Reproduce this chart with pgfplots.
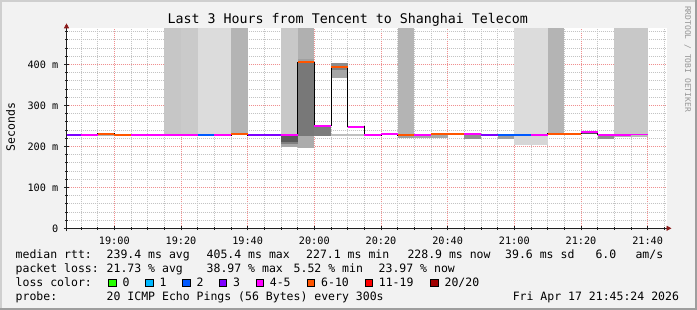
\documentclass[border=0pt]{standalone}
\usepackage{pgfplots}
\pgfplotsset{compat=1.18}
\usepackage{fontspec}
\setmainfont{DejaVu Sans Mono}
\setmonofont{DejaVu Sans Mono}
\usetikzlibrary{arrows.meta}
\definecolor{bgc}{HTML}{F2F2F2}
\definecolor{shadea}{HTML}{CFCFCF}
\definecolor{shadeb}{HTML}{9E9E9E}
\definecolor{gridc}{HTML}{C4C4C4}
\definecolor{mgridc}{HTML}{F09090}
\definecolor{axisc}{HTML}{202020}
\definecolor{arrowc}{HTML}{8B1A1A}
\definecolor{lc0}{HTML}{26FF00}
\definecolor{lc1}{HTML}{00B8FF}
\definecolor{lc2}{HTML}{0059FF}
\definecolor{lc3}{HTML}{7E00FF}
\definecolor{lc4}{HTML}{FF00FF}
\definecolor{lc6}{HTML}{FF5500}
\definecolor{lc11}{HTML}{FF0000}
\definecolor{lc20}{HTML}{A00000}
\newcommand\lfont{\fontsize{11.5}{13}\selectfont}
\newcommand\smoke[5]{\addplot[draw=none, fill={rgb,255:red,#5;green,#5;blue,#5}, forget plot] coordinates {(#1,#3) (#2,#3) (#2,#4) (#1,#4)};}
\begin{document}
\begin{tikzpicture}[x=1pt,y=1pt]
\fill[bgc] (0,0) rectangle (697,310);
\fill[shadea] (0,0) rectangle (2,310);
\fill[shadea] (0,308) rectangle (697,310);
\fill[shadeb] (0,0) rectangle (697,2);
\fill[shadeb] (695,0) rectangle (697,310);
\begin{axis}[
  at={(66.5pt,81.7pt)}, anchor=south west,
  scale only axis, width=600pt, height=200pt,
  xmin=45.66, xmax=225.66, ymin=0, ymax=487.8,
  axis background/.style={fill=white},
  axis lines*=left,
  axis line style={draw=axisc, line width=0.8pt},
  x axis line style={shorten >=-5pt, shorten <=-3pt, -{Triangle[length=5pt,width=5pt,color=arrowc]}},
  y axis line style={shorten >=-5pt, shorten <=-3pt, -{Triangle[length=5pt,width=5pt,color=arrowc]}},
  xtick={60,80,100,120,140,160,180,200,220},
  xticklabels={19:00,19:20,19:40,20:00,20:20,20:40,21:00,21:20,21:40},
  minor xtick={50,55,65,70,75,85,90,95,105,110,115,125,130,135,145,150,155,165,170,175,185,190,195,205,210,215,225},
  ytick={0,100,200,300,400},
  yticklabels={0,100 m,200 m,300 m,400 m},
  minor ytick={20,40,60,80,120,140,160,180,220,240,260,280,320,340,360,380,420,440,460,480},
  grid=both,
  major grid style={mgridc, line width=0.6pt, dash pattern=on 1pt off 1pt},
  minor grid style={gridc, line width=0.6pt, dash pattern=on 1pt off 1pt},
  tick align=center,
  major tick length=4pt, minor tick length=2.5pt,
  tick style={axisc, line width=0.6pt},
  tick label style={font=\fontsize{10.2}{12}\selectfont, inner sep=0pt},
  xticklabel style={anchor=north, yshift=-6pt},
  yticklabel style={anchor=east, xshift=-6pt},
  unbounded coords=jump,
]
% smoke reaching above the graph
\smoke{75}{80}{228}{500}{198}
\smoke{80}{85}{228}{500}{202}
\smoke{85}{95}{228}{500}{220}
\smoke{95}{100}{228}{500}{180}
\smoke{110}{115}{228}{500}{200}
\smoke{115}{120}{405}{500}{176}
\smoke{115}{120}{405}{413}{160}
\smoke{145}{150}{228}{500}{180}
\smoke{180}{190}{228}{500}{220}
\smoke{190}{195}{228}{500}{180}
\smoke{210}{220}{228}{500}{200}
% smoke near the median
\smoke{55}{60}{226}{230}{180}
\smoke{110}{115}{198}{205}{168}
\smoke{110}{115}{205}{211}{128}
\smoke{110}{115}{211}{227}{90}
\smoke{115}{120}{196}{224}{172}
\smoke{115}{120}{224}{405}{120}
\smoke{120}{125}{226}{250}{124}
\smoke{125}{130}{225}{229}{190}
\smoke{125}{130}{367}{387}{166}
\smoke{125}{130}{387}{394}{128}
\smoke{125}{130}{394}{404}{140}
\smoke{130}{135}{225}{229}{192}
\smoke{145}{150}{221}{227}{160}
\smoke{150}{155}{221}{227}{168}
\smoke{155}{160}{221}{228}{168}
\smoke{165}{170}{218}{228}{144}
\smoke{175}{180}{218}{227}{160}
\smoke{180}{190}{203}{227}{214}
\smoke{200}{205}{229}{233}{80}
\smoke{205}{210}{218}{227}{144}
\smoke{210}{215}{222}{227}{180}
\smoke{215}{220}{222}{228}{188}
% median step line
\addplot[black, line width=0.8pt, const plot] coordinates {
(45.66,227.3) (50,227.3) (55,230.5) (60,227.6) (65,227.3) (85,227.3) (90,227.3) (95,229.8) (100,227.3) (110,228) (115,405.6) (120,250) (125,394) (130,247.8) (135,227.6) (140,230) (145,227.6) (150,228) (155,230) (165,229.5) (170,227.6) (175,227.3) (185,227.6) (190,230.5) (200,234.5) (205,228) (215,229) (220,229)};
% median coloured by loss
\addplot[lc3, line width=1.7pt] coordinates {
(45.66,227.3) (50,227.3) (50,nan) (100,227.3) (110,227.3) (110,nan) (170,227.6) (175,227.6)};
\addplot[lc4, line width=1.7pt] coordinates {
(50,227.3) (55,227.3) (55,nan) (65,227.3) (85,227.3) (85,nan) (90,227.3) (95,227.3) (95,nan)
(110,228) (115,228) (115,nan) (120,250) (125,250) (125,nan) (130,247.8) (135,247.8) (135,nan)
(135,227.6) (140,227.6) (140,nan) (140,230) (145,230) (145,nan) (150,228) (155,228) (155,nan)
(165,229.5) (170,229.5) (170,nan) (185,227.6) (190,227.6) (190,nan) (200,234.5) (205,234.5) (205,nan)
(205,228) (215,228) (215,nan) (215,229) (220,229)};
\addplot[lc2, line width=1.7pt] coordinates {
(85,227.3) (90,227.3) (90,nan) (175,227.3) (185,227.3)};
\addplot[lc6, line width=1.7pt] coordinates {
(55,230.5) (60,230.5) (60,nan) (60,227.6) (65,227.6) (65,nan) (95,229.8) (100,229.8) (100,nan)
(115,405.6) (120,405.6) (120,nan) (125,394) (130,394) (130,nan) (145,227.6) (150,227.6) (150,nan)
(155,230) (165,230) (165,nan) (190,230.5) (200,230.5)};
\end{axis}
% title and side texts
\node[anchor=base, inner sep=0, font=\fontsize{13.3}{15}\selectfont] at (347.8,286.7) {Last 3 Hours from Tencent to Shanghai Telecom};
\node[rotate=90, anchor=base, inner sep=0, font=\lfont] at (15,182.7) {Seconds};
\node[rotate=-90, anchor=base, inner sep=0, font=\fontsize{8}{9}\selectfont, text={rgb,255:red,150;green,150;blue,150}] at (685,251) {RRDTOOL / TOBI OETIKER};
% legend rows
\begin{scope}[every node/.style={anchor=base west, inner sep=0, font=\lfont}]
\node at (15.5,51.7) {median rtt:};
\node at (106.5,51.7) {239.4 ms avg};
\node at (206.5,51.7) {405.4 ms max};
\node at (306,51.7) {227.1 ms min};
\node at (407.3,51.7) {228.9 ms now};
\node at (505,51.7) {39.6 ms sd};
\node at (595.3,51.7) {6.0};
\node at (635.3,51.7) {am/s};
\node at (15.5,37.5) {packet loss:};
\node at (106.5,37.5) {21.73 \% avg};
\node at (206.5,37.5) {38.97 \% max};
\node at (293.5,37.5) {5.52 \% min};
\node at (378.5,37.5) {23.97 \% now};
\node at (15.5,23.5) {loss color:};
\node at (122.4,23.5) {0};
\node at (159.4,23.5) {1};
\node at (196.4,23.5) {2};
\node at (233,23.5) {3};
\node at (269.7,23.5) {4-5};
\node at (321,23.5) {6-10};
\node at (378.7,23.5) {11-19};
\node at (444.4,23.5) {20/20};
\node at (15.5,9.7) {probe:};
\node at (106.5,9.7) {20 ICMP Echo Pings (56 Bytes) every 300s};
\node at (512.6,9.7) {Fri Apr 17 21:45:24 2026};
\end{scope}
\begin{scope}[line width=0.7pt, draw=black]
\draw[fill=lc0] (108.7,23.8) rectangle ++(7.3,7.3);
\draw[fill=lc1] (145.7,23.8) rectangle ++(7.3,7.3);
\draw[fill=lc2] (182.7,23.8) rectangle ++(7.3,7.3);
\draw[fill=lc3] (219.3,23.8) rectangle ++(7.3,7.3);
\draw[fill=lc4] (256,23.8) rectangle ++(7.3,7.3);
\draw[fill=lc6] (307.3,23.8) rectangle ++(7.3,7.3);
\draw[fill=lc11] (365,23.8) rectangle ++(7.3,7.3);
\draw[fill=lc20] (430.7,23.8) rectangle ++(7.3,7.3);
\end{scope}
\pgfresetboundingbox
\useasboundingbox (0,0) rectangle (697,310);
\end{tikzpicture}
\end{document}
